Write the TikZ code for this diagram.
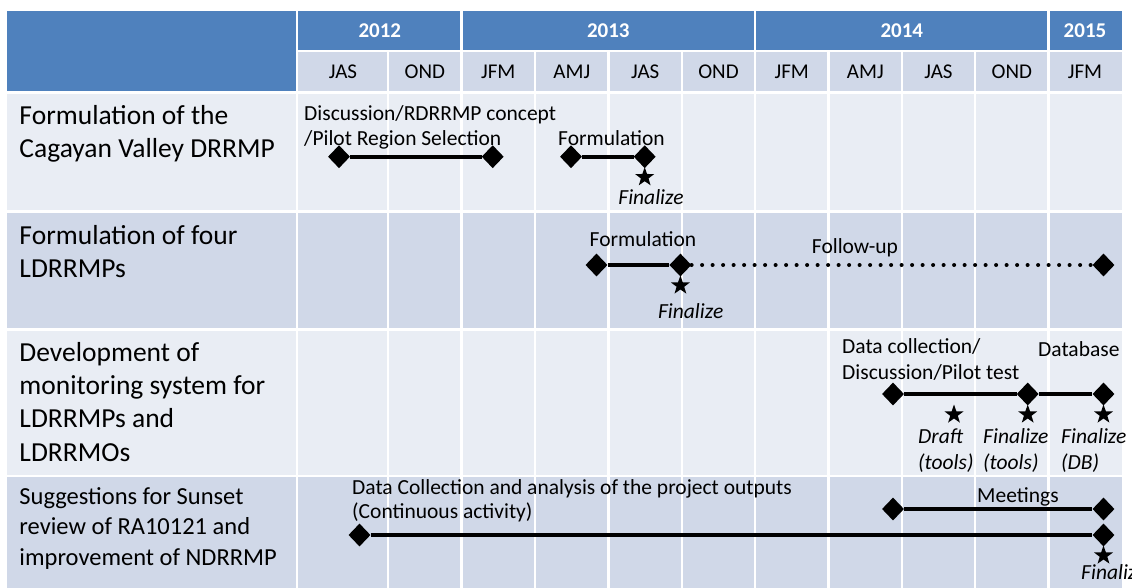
\documentclass[tikz,border=0pt]{standalone}
\usepackage{fontspec}
\setmainfont{Carlito}
\usetikzlibrary{shapes.geometric}
\definecolor{hdrblue}{HTML}{4F81BD}
\definecolor{rowlight}{HTML}{E9EDF4}
\definecolor{rowdark}{HTML}{D0D8E8}
\begin{document}
\begin{tikzpicture}[x=1pt,y=-1pt,
  grid/.style={white, line width=2.2pt},
  dia/.style={diamond, fill=black, inner sep=0pt, minimum width=22pt, minimum height=23pt},
  bar/.style={line width=4pt},
  dotbar/.style={line width=4pt, line cap=round, dash pattern=on 0pt off 10.5pt},
  mstar/.style={star, star points=5, star point ratio=2.5, fill=black, inner sep=0pt, minimum size=20pt},
  rowlbl/.style={anchor=base west, align=left, inner sep=0pt, font=\fontsize{27.5}{33}\selectfont},
  rowlblsm/.style={anchor=base west, align=left, inner sep=0pt, font=\fontsize{24.5}{30.5}\selectfont},
  lbl/.style={inner sep=0pt, align=left, font=\fontsize{21.5}{25}\selectfont},
  ilbl/.style={inner sep=0pt, align=left, font=\fontsize{21.5}{26}\selectfont\itshape},
  yr/.style={white, font=\fontsize{21}{25}\selectfont\bfseries, inner sep=0pt},
  mo/.style={font=\fontsize{21}{25}\selectfont, inner sep=0pt}]
\useasboundingbox (0,0) rectangle (1132,587);
\clip (0,0) rectangle (1132,587);
% table background
\fill[white] (0,0) rectangle (1132,587);
\fill[hdrblue] (7.3,11) rectangle (1121.5,51);
\fill[hdrblue] (7.3,51) rectangle (297.3,92.5);
\fill[rowdark] (297.3,51) rectangle (1121.5,92.5);
\fill[rowlight] (7.3,92.5) rectangle (1121.5,211.5);
\fill[rowdark] (7.3,211.5) rectangle (1121.5,329.5);
\fill[rowlight] (7.3,329.5) rectangle (1121.5,476);
\fill[rowdark] (7.3,476) rectangle (1121.5,590);
% grid
\draw[grid] (297.3,11) -- (297.3,590);
\foreach \x in {461.5,755,1048.5} \draw[grid] (\x,11) -- (\x,590);
\foreach \x in {388,535,608.5,682,828.5,902,975} \draw[grid] (\x,51) -- (\x,590);
\draw[grid] (297.3,51) -- (1121.5,51);
\draw[grid, line width=3pt] (7.3,92.5) -- (1121.5,92.5);
\foreach \y in {211.5,329.5,476} \draw[grid] (7.3,\y) -- (1121.5,\y);
% header
\node[yr] (y2012) at (379.8,30.5) {2012};
\node[yr] (y2013) at (608.3,30.5) {2013};
\node[yr] (y2014) at (901.8,30.5) {2014};
\node[yr] (y2015) at (1085,30.5) {2015};
\foreach \x/\t [count=\i] in {343/JAS,424.8/OND,498.3/JFM,571.8/AMJ,645.3/JAS,718.5/OND,791.8/JFM,865.3/AMJ,938.5/JAS,1011.8/OND,1085/JFM}
  \node[mo] (m\i) at (\x,72) {\t};
% row labels (base = last line)
\node[rowlbl] (r1) at (19.3,157) {Formulation of the\\Cagayan Valley DRRMP};
\node[rowlbl] (r2) at (19.3,277.5) {Formulation of four\\LDRRMPs};
\node[rowlbl, font=\fontsize{27.5}{33.4}\selectfont] (r3) at (19.3,461.2) {Development of\\monitoring system for\\LDRRMPs and\\LDRRMOs};
\node[rowlblsm] (r4) at (19.3,565) {Suggestions for Sunset\\review of RA10121 and\\improvement of NDRRMP};
% row 1
\node[dia] (a1) at (339,156.7) {};
\node[dia] (a2) at (492.7,156.7) {};
\draw[bar] (a1) -- (a2);
\node[dia] (a3) at (571,156.7) {};
\node[dia] (a4) at (644.7,156.7) {};
\draw[bar] (a3) -- (a4);
\node[mstar] (s1) at (644.7,177.2) {};
\node[lbl, anchor=base west] (t1) at (304,145.5) {Discussion/RDRRMP concept\\/Pilot Region Selection};
\node[lbl, anchor=base west] (t2) at (558,145.5) {Formulation};
\node[ilbl, anchor=base] (t3) at (651,204.5) {Finalize};
% row 2
\node[dia] (b1) at (596.5,265) {};
\node[dia] (b2) at (680.4,265) {};
\node[dia] (b3) at (1103.5,265) {};
\draw[bar] (b1) -- (b2);
\draw[dotbar] (b2) -- (b3);
\node[mstar] (s2) at (680.4,285.5) {};
\node[lbl, anchor=base] (t4) at (643,246.5) {Formulation};
\node[lbl, anchor=base] (t5) at (855,253) {Follow-up};
\node[ilbl, anchor=base] (t6) at (690.7,318) {Finalize};
% row 3
\node[dia] (c1) at (893,394) {};
\node[dia] (c2) at (1027.7,394) {};
\node[dia] (c3) at (1103.5,394) {};
\draw[bar] (c1) -- (c2);
\draw[bar] (c2) -- (c3);
\node[mstar] (s3) at (954,414.5) {};
\node[mstar] (s4) at (1027.7,414.5) {};
\node[mstar] (s5) at (1103.5,414.5) {};
\node[lbl, anchor=base west, font=\fontsize{21.5}{26}\selectfont] (t7) at (842,379) {Data collection/\\Discussion/Pilot test};
\node[lbl, anchor=base west] (t8) at (1038,356.5) {Database};
\node[ilbl, anchor=base west] (t9) at (918,469.5) {Draft\\(tools)};
\node[ilbl, anchor=base west] (t10) at (983,469.5) {Finalize\\(tools)};
\node[ilbl, anchor=base west] (t11) at (1061,469.5) {Finalize\\(DB)};
% row 4
\node[dia] (d1) at (893,509) {};
\node[dia] (d2) at (1103.5,509) {};
\draw[bar] (d1) -- (d2);
\node[dia] (e1) at (359.5,535) {};
\node[dia] (e2) at (1103.5,535) {};
\draw[bar] (e1) -- (e2);
\node[mstar] (s6) at (1103.5,555.5) {};
\node[lbl, anchor=base west, font=\fontsize{21.5}{24}\selectfont] (t12) at (352,518) {Data Collection and analysis of the project outputs\\(Continuous activity)};
\node[lbl, anchor=base west] (t13) at (977,502.5) {Meetings};
\node[ilbl, anchor=base west] (t14) at (1081,579.5) {Finalize};
\end{tikzpicture}
\end{document}
